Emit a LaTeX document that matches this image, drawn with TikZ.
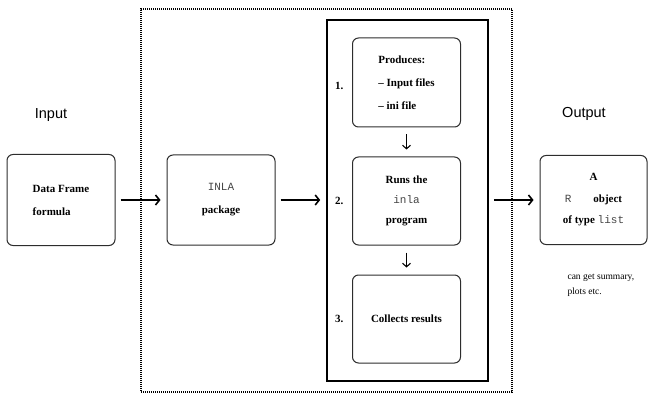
\documentclass[tikz,border=0pt]{standalone}
\usepackage{fontspec}
\setmainfont{Liberation Serif}
\setsansfont{Liberation Sans}
\setmonofont{Liberation Mono}
\usepackage{xcolor}
\usetikzlibrary{arrows.meta,positioning}
\definecolor{boxgray}{RGB}{45, 45, 45}
\definecolor{codegray}{RGB}{70, 70, 70}
\newcommand{\rcode}[1]{{\mdseries\ttfamily\color{codegray}#1}}
\tikzset{
  stagebox/.style={draw=boxgray, line width=1pt, rounded corners=6pt, fill=white, minimum width=108pt, font=\bfseries\fontsize{11}{23}\selectfont},
  flowarrow/.style={-{Straight Barb[length=4pt,width=10pt]}, line width=1.6pt, shorten <=5pt, shorten >=6pt},
  steparrow/.style={-{Straight Barb[length=3.5pt,width=8pt]}, line width=1.1pt, shorten <=7pt, shorten >=7pt},
  headline/.style={font=\sffamily\fontsize{14.5}{17}\selectfont},
  stepnum/.style={font=\bfseries\fontsize{11}{13}\selectfont}
}

\begin{document}
\begin{tikzpicture}[x=1pt, y=-1pt]
\useasboundingbox (0,0) rectangle (651,393);

\node[draw, line width=1.1pt, dash pattern=on 1pt off 1pt, minimum width=371pt, minimum height=383pt] (wrapper) at (326.5,200.5) {};
\node[draw, line width=1.6pt, minimum width=161pt, minimum height=361pt] (engine) at (407.5,200.5) {};

\node[headline] (inlabel) at (51,115) {Input};
\node[headline] (outlabel) at (584,114) {Output};

\node[stagebox, minimum height=91pt, align=left] (frame) at (61,200) {Data Frame\\formula};
\node[stagebox, minimum height=90pt, align=center] (inla) at (221,200) {\rcode{INLA}\\package};

\node[stagebox, minimum height=89pt, align=left] (produce) at (406.5,82.5) {Produces:\\-- Input files\\-- ini file};
\node[stagebox, minimum height=88pt, align=center, font=\bfseries\fontsize{11}{20}\selectfont] (run) at (406.5,201) {Runs the\\\rcode{inla}\\program};
\node[stagebox, minimum height=88pt] (collect) at (406.5,319) {Collects results};

\node[stepnum, left=5pt of produce, yshift=-3pt] (one) {1.};
\node[stepnum, left=5pt of run] (two) {2.};
\node[stepnum, left=5pt of collect] (three) {3.};

\node[stagebox, minimum width=107pt, minimum height=89pt, align=center, font=\bfseries\fontsize{11}{21.5}\selectfont] (result) at (593.5,200) {A\\\rcode{R}\hspace{2em}object\\of type \rcode{list}};

\node[align=left, anchor=north west, font=\fontsize{9.5}{15}\selectfont] (note) at (564,271) {can get summary,\\plots etc.};

\draw[flowarrow] (frame.east) -- (frame.east -| inla.west);
\draw[flowarrow] (inla.east) -- (inla.east -| engine.west);
\draw[flowarrow] (engine.east |- result.west) -- (result.west);
\draw[steparrow] (produce) -- (run);
\draw[steparrow] (run) -- (collect);
\end{tikzpicture}
\end{document}
